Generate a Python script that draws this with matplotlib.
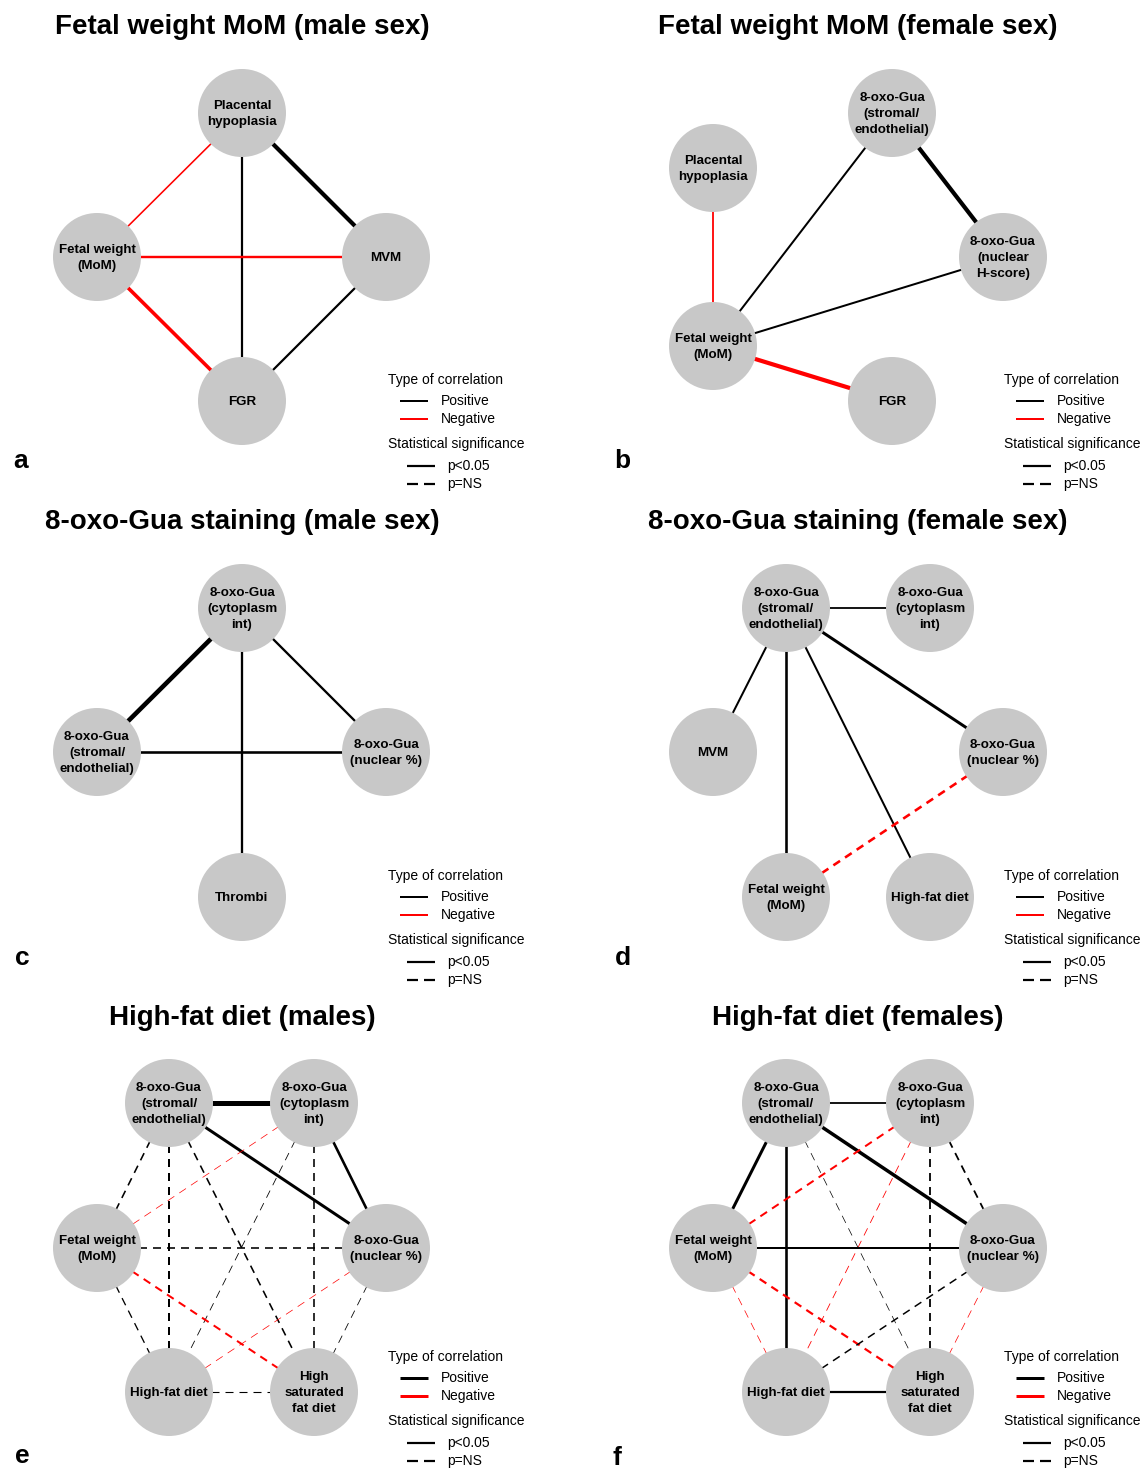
import matplotlib
matplotlib.use("Agg")
import matplotlib.pyplot as plt
from matplotlib.patches import Circle

plt.rcParams['font.family'] = ['Liberation Sans', 'DejaVu Sans']
plt.rcParams['lines.scale_dashes'] = False

# ---- data: nodes and edges per panel ----
# edge = (node i, node j, sign, significant, strength(px width))
titles = ["Fetal weight MoM (male sex)", "Fetal weight MoM (female sex)",
          "8-oxo-Gua staining (male sex)", "8-oxo-Gua staining (female sex)",
          "High-fat diet (males)", "High-fat diet (females)"]
letters = ["a", "b", "c", "d", "e", "f"]

nodes_a = ["Placental\nhypoplasia", "Fetal weight\n(MoM)", "MVM", "FGR"]
edges_a = [(0, 1, "neg", True, 1.6), (0, 2, "pos", True, 4.2), (0, 3, "pos", True, 2.2),
           (1, 2, "neg", True, 2.4), (1, 3, "neg", True, 3.6), (2, 3, "pos", True, 2.2)]

nodes_b = ["8-oxo-Gua\n(stromal/\nendothelial)", "Placental\nhypoplasia",
           "8-oxo-Gua\n(nuclear\nH-score)", "Fetal weight\n(MoM)", "FGR"]
edges_b = [(1, 3, "neg", True, 1.8), (3, 0, "pos", True, 2.0), (0, 2, "pos", True, 4.2),
           (3, 2, "pos", True, 2.0), (3, 4, "neg", True, 4.2)]

nodes_c = ["8-oxo-Gua\n(cytoplasm\nint)", "8-oxo-Gua\n(stromal/\nendothelial)",
           "8-oxo-Gua\n(nuclear %)", "Thrombi"]
edges_c = [(0, 1, "pos", True, 4.6), (0, 2, "pos", True, 2.3), (0, 3, "pos", True, 2.3),
           (1, 2, "pos", True, 2.6)]

nodes_d = ["8-oxo-Gua\n(stromal/\nendothelial)", "8-oxo-Gua\n(cytoplasm\nint)", "MVM",
           "8-oxo-Gua\n(nuclear %)", "Fetal weight\n(MoM)", "High-fat diet"]
edges_d = [(0, 1, "pos", True, 1.8), (0, 2, "pos", True, 2.0), (0, 4, "pos", True, 2.6),
           (0, 5, "pos", True, 2.0), (0, 3, "pos", True, 3.0), (3, 4, "neg", False, 2.6)]

nodes_ef = ["8-oxo-Gua\n(stromal/\nendothelial)", "8-oxo-Gua\n(cytoplasm\nint)",
            "Fetal weight\n(MoM)", "8-oxo-Gua\n(nuclear %)", "High-fat diet",
            "High\nsaturated\nfat diet"]
edges_e = [(0, 1, "pos", True, 5.0), (0, 3, "pos", True, 3.0), (1, 3, "pos", True, 2.6),
           (0, 2, "pos", False, 1.6), (0, 4, "pos", False, 2.0), (0, 5, "pos", False, 1.6),
           (1, 2, "neg", False, 0.7), (1, 4, "pos", False, 0.8), (1, 5, "pos", False, 1.6),
           (2, 3, "pos", False, 1.6), (2, 4, "pos", False, 1.3), (2, 5, "neg", False, 2.0),
           (3, 4, "neg", False, 0.7), (3, 5, "pos", False, 0.8), (4, 5, "pos", False, 1.1)]
edges_f = [(0, 1, "pos", True, 1.8), (0, 3, "pos", True, 3.5), (0, 2, "pos", True, 3.0),
           (0, 4, "pos", True, 2.6), (0, 5, "pos", False, 0.7), (1, 2, "neg", False, 2.0),
           (1, 4, "neg", False, 0.8), (1, 5, "pos", False, 1.8), (1, 3, "pos", False, 1.8),
           (2, 3, "pos", True, 2.0), (2, 4, "neg", False, 0.7), (2, 5, "neg", False, 2.2),
           (3, 4, "pos", False, 1.5), (3, 5, "neg", False, 0.7), (4, 5, "pos", True, 2.2)]

panel_nodes = [nodes_a, nodes_b, nodes_c, nodes_d, nodes_ef, nodes_ef]
panel_edges = [edges_a, edges_b, edges_c, edges_d, edges_e, edges_f]

# ---- layout (pixel positions of node centres) ----
layout = [
    [(242, 113), (97, 257), (386, 257), (242, 401)],
    [(892, 113), (713, 168), (1003, 257), (713, 346), (892, 401)],
    [(242, 608), (97, 752), (386, 752), (242, 897)],
    [(786, 608), (930, 608), (713, 752), (1003, 752), (786, 897), (930, 897)],
    [(169, 1103), (314, 1103), (97, 1248), (386, 1248), (169, 1392), (314, 1392)],
    [(786, 1103), (930, 1103), (713, 1248), (1003, 1248), (786, 1392), (930, 1392)],
]
title_pos = [(242, 27), (858, 27), (242, 522), (858, 522), (242, 1018), (858, 1018)]
letter_pos = [(21, 461), (622, 461), (22, 958), (623, 958), (22, 1456), (617, 1458)]
legend_pos = [(388, 380), (1004, 380), (388, 876), (1004, 876), (388, 1357), (1004, 1357)]
legend_lw = [2.0, 2.0, 2.0, 2.0, 3.0, 3.0]

R = 44
W, H = 1148, 1471
px = 0.72  # px -> pt at dpi 100
DASH = (0, (8 * px, 6 * px))

fig = plt.figure(figsize=(W / 100, H / 100), dpi=100)
ax = fig.add_axes([0, 0, 1, 1])
ax.set_xlim(0, W)
ax.set_ylim(H, 0)
ax.axis('off')

for p in range(6):
    pos = layout[p]
    for i, j, sign, sig, w in panel_edges[p]:
        color = 'black' if sign == 'pos' else 'red'
        ls = '-' if sig else DASH
        ax.plot([pos[i][0], pos[j][0]], [pos[i][1], pos[j][1]], color=color,
                lw=w * px, ls=ls, zorder=1, solid_capstyle='butt', dash_capstyle='butt')
    for (x, y), lab in zip(pos, panel_nodes[p]):
        ax.add_patch(Circle((x, y), R, facecolor='#c8c8c8', edgecolor='none', zorder=2))
        ax.text(x, y + 1, lab, ha='center', va='center', fontsize=9.6, fontweight='bold',
                linespacing=1.45, zorder=3)
    tx, ty = title_pos[p]
    ax.text(tx, ty, titles[p], ha='center', va='center', fontsize=20, fontweight='bold')
    lx, ly = letter_pos[p]
    ax.text(lx, ly, letters[p], ha='center', va='center', fontsize=19, fontweight='bold')

    # legend
    gx, gy = legend_pos[p]
    lw = legend_lw[p] * px
    ax.text(gx, gy, "Type of correlation", ha='left', va='center', fontsize=10)
    ax.plot([gx + 12, gx + 40], [gy + 21, gy + 21], color='black', lw=lw, solid_capstyle='butt')
    ax.text(gx + 53, gy + 21, "Positive", ha='left', va='center', fontsize=10)
    ax.plot([gx + 12, gx + 40], [gy + 39, gy + 39], color='red', lw=lw, solid_capstyle='butt')
    ax.text(gx + 53, gy + 39, "Negative", ha='left', va='center', fontsize=10)
    ax.text(gx, gy + 64, "Statistical significance", ha='left', va='center', fontsize=10)
    ax.plot([gx + 19, gx + 47], [gy + 86, gy + 86], color='black', lw=2.2 * px,
            solid_capstyle='butt')
    ax.text(gx + 59, gy + 86, "p<0.05", ha='left', va='center', fontsize=10)
    ax.plot([gx + 19, gx + 47], [gy + 104, gy + 104], color='black', lw=2.2 * px,
            ls=(0, (11 * px, 6 * px)), dash_capstyle='butt')
    ax.text(gx + 59, gy + 104, "p=NS", ha='left', va='center', fontsize=10)

fig.savefig("out.png", dpi=100)
